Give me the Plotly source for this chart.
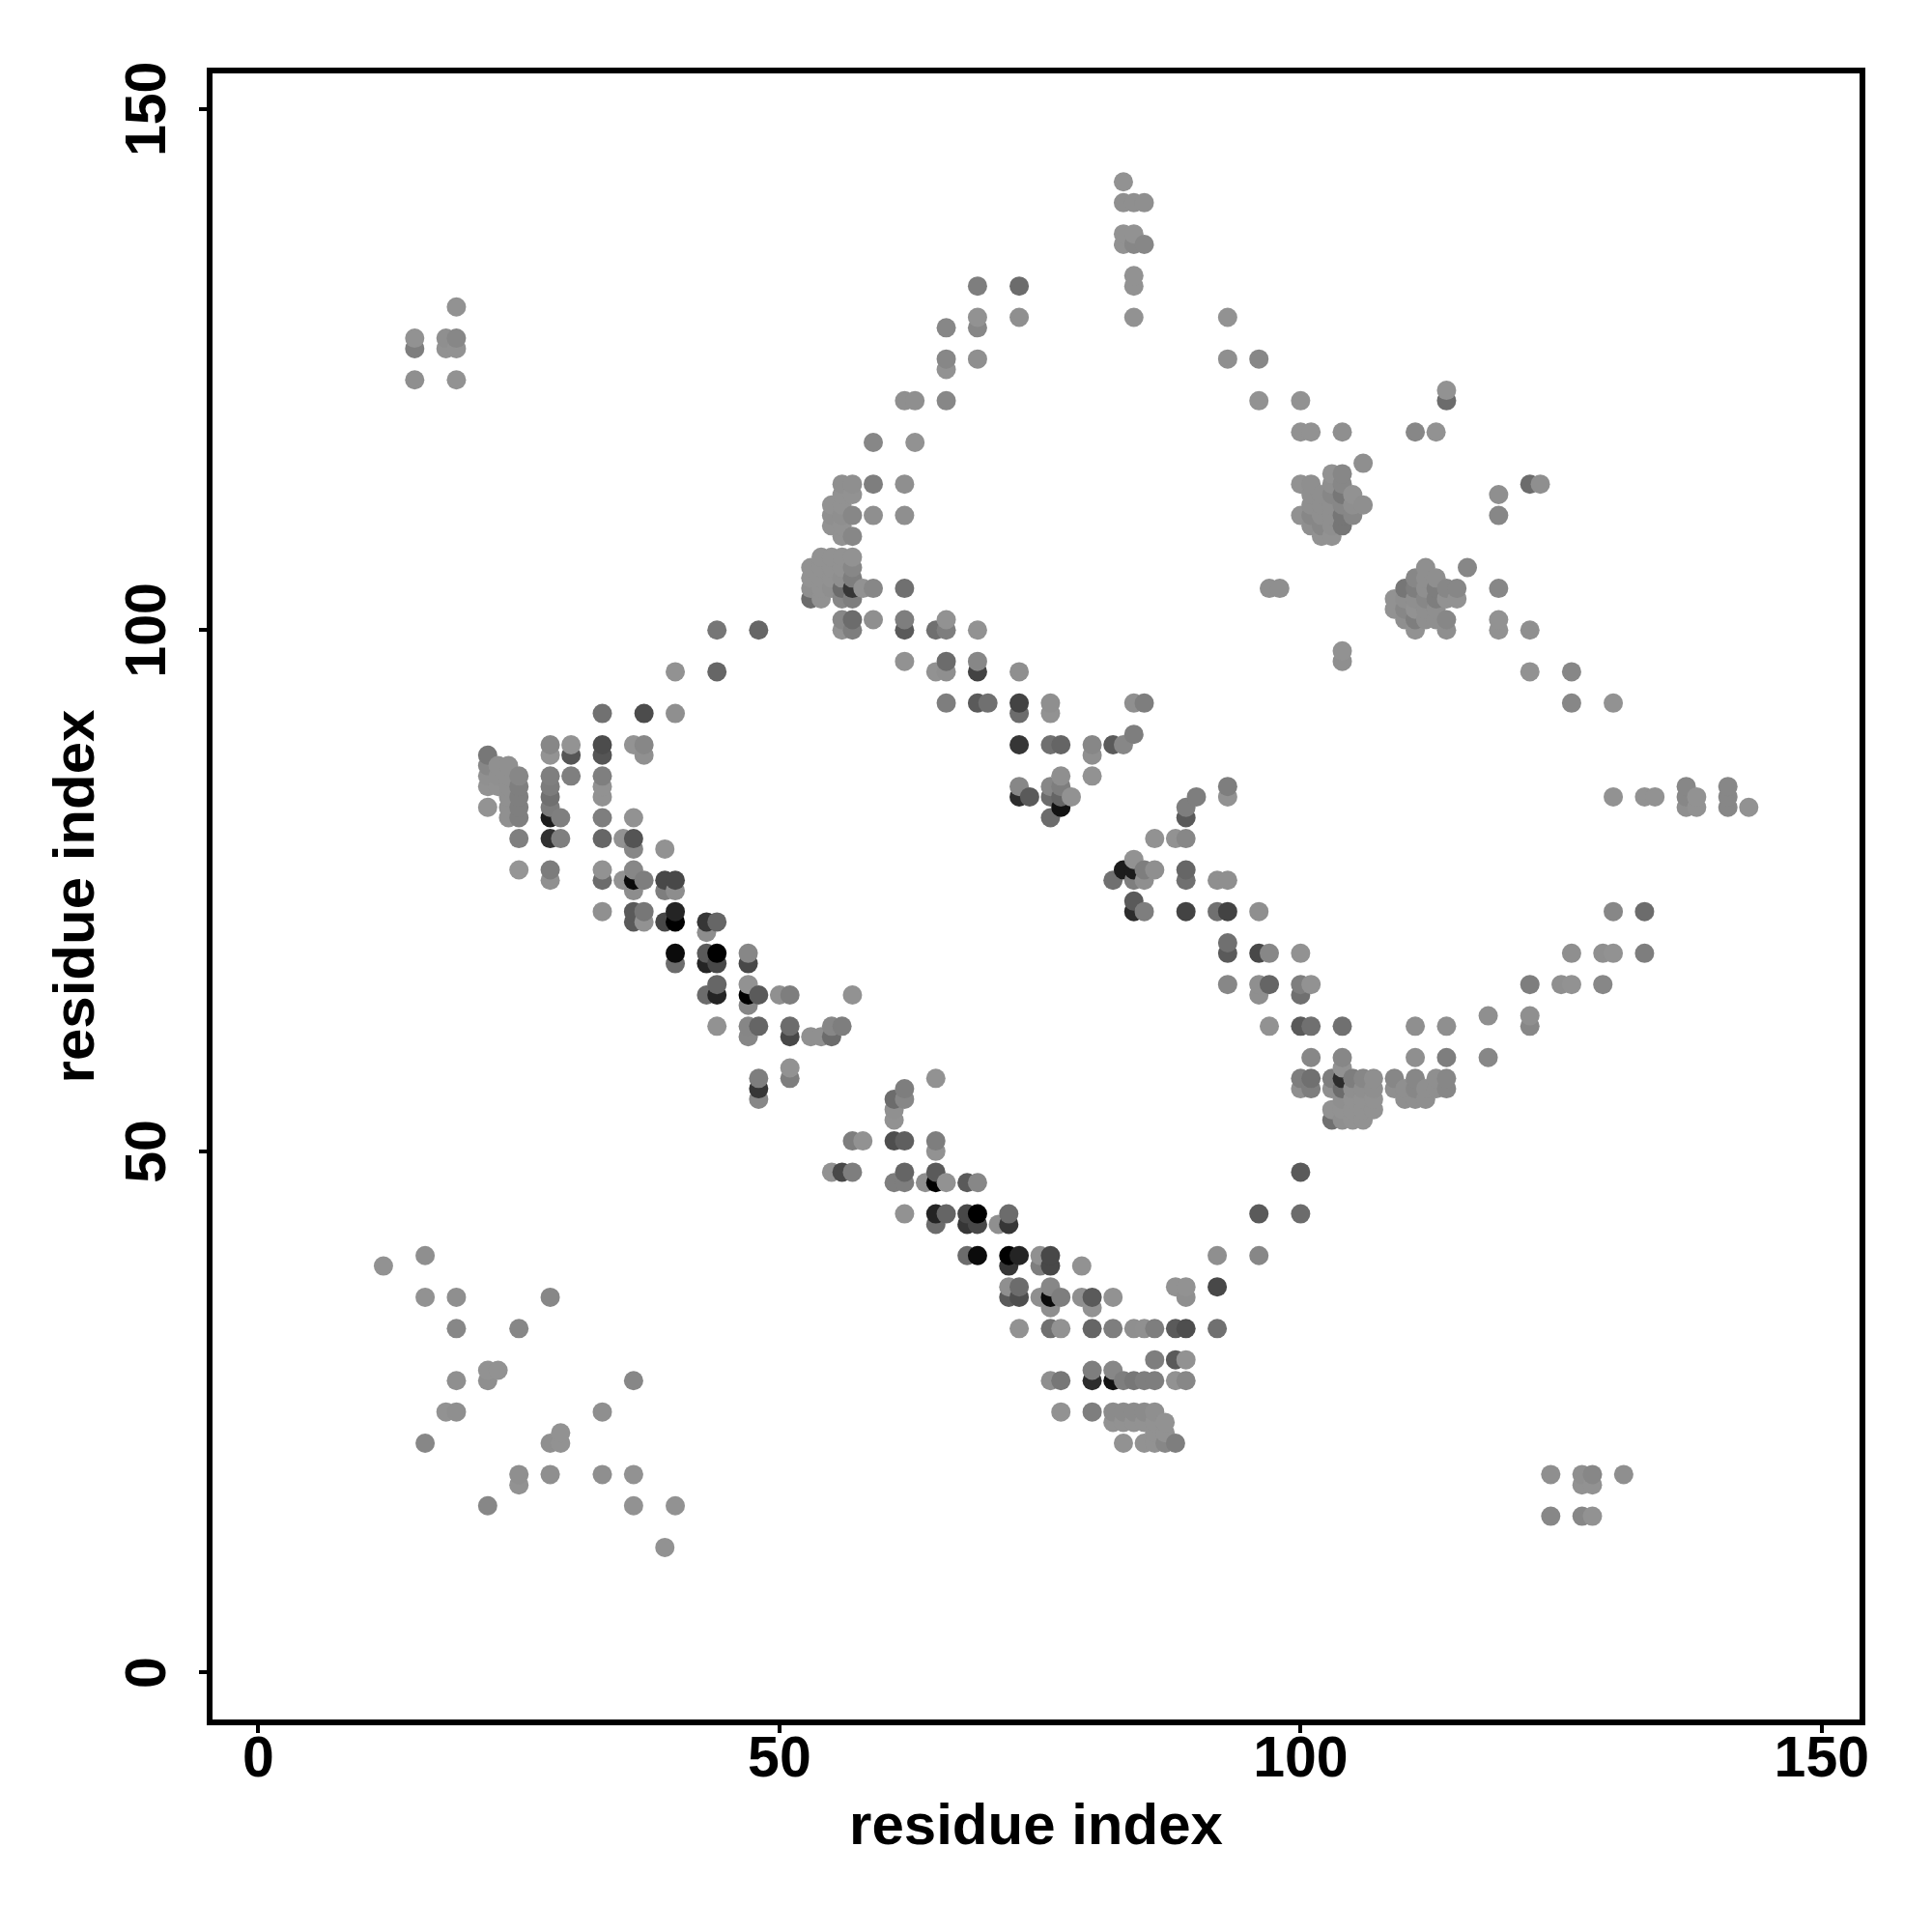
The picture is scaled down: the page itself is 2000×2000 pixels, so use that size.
import numpy as np
import plotly.graph_objects as go

tick_values = [0, 50, 100, 150]
axis_label = "residue index"

row_y = [143,141,138,137,134,133,131,130,129,128,127,126,125,124,123,122,119,118,116,115,114,113,112,111,110,109,107,106,105,104,103,102,101,100,98,97,96,93,92,90,89,88,87,86,85,84,83,82,80,79,78,77,76,75,74,73,72,71,70,69,68,66,65,64,63,62,61,59,58,57,56,55,54,53,51,50,48,47,44,43,40,39,37,36,35,33,30,29,28,25,24,23,22,19,18,16,15,12]

row_x = [
[83],[83,84,85],[83,84],[83,84,85],[84],[69,73,84],[19],[69,73,84,93],[66,69],[15,18,19],[15,18,19],[66,69,93,96],[66],[15,19],[114],[62,63,66,96,100,114],
[100,101,104,111,113],[59,63],[106],[103,104],[56,57,59,62,100,101,103,104,122,123],[56,57,101,102,103,104,105,119],[55,56,101,102,103,104,105,106],
[55,56,57,59,62,100,101,102,103,104,105,119],[55,56,101,102,103,104],[56,57,102,103],[54,55,56,57],[53,54,55,56,57,112,116],[53,54,55,56,57,111,112,113],
[53,54,55,56,57,58,59,62,97,98,110,111,112,113,114,115,119],[53,54,56,57,109,110,111,112,113,114,115],[109,110,111,112,113],[56,57,59,62,66,110,111,112,113,114,119],
[44,48,56,57,62,65,66,69,111,114,119,122],[104],[62,66,69,104],[40,44,65,66,69,73,122,126],[66,69,70,73,76,84,85,126,130],[33,37,40,73,76],[84],
[28,30,33,36,37,73,76,77,80,82,83],[22,28,30,33,37,80],[22,23,24],[22,23,24,25,28,30,33,77,80],[22,23,24,25,28,33,73,76,77,93,137,141],
[24,25,28,33,73,74,76,77,78,90,93,130,133,134,137,138,141],[22,24,25,28,77,89,137,138,141,143],[24,25,28,29,33,36,76,89],[25,28,29,33,35,36,86,88,89],[36,39],[84],
[25,28,33,36,83,84,85,86,89],[28,33,35,36,37,39,40,82,84,85,89,92,93],[36,39,40],[84],[33,36,37,40,84,85,89,92,93,96,130,133],[36,37,39,40,43,44],[43],[93],
[40,43,44,47,93,96,97,100,126,129,130,133],[40,43,44,47],[44,47,93,96,97,100,101,122,125,126,129],[43,44,47,48,50,51,57,96,100],[47],[118,122],
[44,47,48,51,55,56,97,100,101,104,111,114,122],[47,51,53,54,55],[101,104,111,114,118],[51,104],[48,51,65,100,101,103,104,105,106,107,109,111,113,114],
[48,62,100,101,103,104,105,106,107,109,110,111,112,113,114],[48,61,62,104,105,106,107,110,111,112],[61,103,104,105,106,107],[61,103,104,105,106],[57,58,61,62,65],[65],
[55,56,57,62,65,100],[61,62,64,65,66,68,69],[62,65,66,68,69,72,96,100],[65,68,69,71,72],[16,68,69,72,73,75,76,92,96],[12,72,75,76,79],[72,73,76,88,89,92],
[16,19,28,72,73,75,76,77,79,80,82,89],[76,80],[19,25,73,76,77,80,82,84,85,86,88,89,92],[86,88,89],[22,23,80,82],[19,22,36,76,77,80,82,83,84,85,86,88,89],
[18,19,33,77,80,82,83,84,85,86],[82,83,84,85,86,87],[29,86,87],[16,28,29,83,85,86,87,88],[25,28,33,36,124,127,128,131],[25,127,128],[22,36,40],[124,127,128],[39],
]

row_shade = [
[0x8f],[0x8a,0x8a,0x8a],[0x8f,0x8f],[0x8f,0x80,0x80],[0x8f],[0x77,0x66,0x8f],[0x8f],[0x8f,0x8a,0x8f,0x8f],[0x80,0x80],[0x8f,0x8a,0x80],[0x77,0x8f,0x8f],[0x80,0x8a,0x8a,0x80],[0x8f],[0x8a,0x8f],[0x8f],[0x8a,0x8a,0x80,0x8f,0x8f,0x66],
[0x8f,0x8f,0x8a,0x80,0x8f],[0x80,0x8f],[0x8a],[0x8f,0x80],[0x8a,0x8a,0x77,0x8a,0x8f,0x8a,0x8a,0x80,0x66,0x8a],[0x8f,0x8f,0x8a,0x8a,0x80,0x70,0x8f,0x8a],[0x8f,0x8f,0x8a,0x8a,0x8a,0x80,0x8a,0x8a],
[0x8a,0x8a,0x80,0x8a,0x8a,0x8f,0x80,0x8a,0x8a,0x6f,0x80,0x80],[0x8f,0x8f,0x8a,0x80,0x8a,0x6f],[0x8f,0x80,0x8f,0x8f],[0x8f,0x8f,0x8f,0x8f],[0x8f,0x8f,0x8f,0x8f,0x80,0x8a,0x80],[0x8f,0x8f,0x8f,0x8a,0x77,0x80,0x8a,0x8a],
[0x8a,0x8f,0x8a,0x66,0x33,0x8f,0x80,0x6a,0x8a,0x8a,0x6f,0x77,0x8a,0x77,0x80,0x80,0x80],[0x66,0x8f,0x80,0x77,0x8f,0x8a,0x8a,0x80,0x77,0x8f,0x8f],[0x8f,0x80,0x8f,0x8a,0x8a],[0x80,0x66,0x8a,0x77,0x8f,0x8a,0x77,0x8a,0x8a,0x80,0x8f],
[0x6f,0x60,0x8f,0x77,0x55,0x6a,0x77,0x8f,0x8f,0x8a,0x8f,0x8a],[0x8f],[0x8f,0x66,0x80,0x8a],[0x8f,0x60,0x8f,0x8a,0x3f,0x8a,0x8f,0x80],[0x77,0x55,0x6a,0x3f,0x8a,0x8a,0x77,0x80,0x8f],[0x6b,0x48,0x8a,0x66,0x8f],[0x77],
[0x80,0x90,0x48,0x90,0x80,0x33,0x6a,0x5f,0x80,0x55,0x80],[0x70,0x90,0x50,0x50,0x8c,0x8a],[0x80,0x8c,0x8c],[0x8c,0x8c,0x8c,0x80,0x78,0x78,0x78,0x8a,0x8f],[0x8f,0x8f,0x8c,0x78,0x75,0x8f,0x80,0x80,0x77,0x77,0x80,0x80],
[0x8c,0x78,0x6a,0x8f,0x2a,0x55,0x66,0x5f,0x8f,0x77,0x8f,0x8f,0x8f,0x8f,0x80,0x8f,0x80],[0x90,0x8c,0x78,0x75,0x11,0x77,0x8a,0x8f,0x80,0x8f],[0x8c,0x78,0x1a,0x78,0x77,0x8f,0x66,0x55],[0x78,0x2e,0x78,0x60,0x8f,0x4f,0x8f,0x8f,0x80],[0x80,0x8f],[0x8f],
[0x92,0x75,0x8f,0x80,0x1a,0x1a,0x77,0x8a,0x60],[0x8c,0x66,0x8f,0x0a,0x77,0x44,0x44,0x6a,0x77,0x8a,0x6a,0x8a,0x8a],[0x88,0x77,0x88],[0x55],[0x8c,0x55,0x70,0x22,0x2a,0x77,0x3f,0x6a,0x3f,0x8a,0x80,0x66],[0x55,0x8f,0x44,0x00,0x33,0x60],[0x88],[0x6a],
[0x0a,0x55,0x00,0x80,0x55,0x44,0x80,0x8f,0x8a,0x8a,0x8f,0x77],[0x66,0x22,0x44,0x44],[0x60,0x8f,0x80,0x8a,0x5f,0x77,0x8f,0x77,0x8a,0x8f,0x80],[0x66,0x22,0x00,0x55,0x8c,0x77,0x8f,0x8a,0x6a],[0x80],[0x8a,0x8a],
[0x8f,0x7f,0x5f,0x66,0x80,0x77,0x8f,0x55,0x6a,0x6a,0x8a,0x8a,0x80],[0x80,0x44,0x8c,0x8c,0x66],[0x80,0x80,0x8a,0x77,0x80],[0x8f,0x8f],[0x77,0x77,0x8f,0x77,0x6a,0x77,0x2a,0x77,0x80,0x8a,0x80,0x80,0x8a,0x80],
[0x33,0x77,0x8a,0x77,0x8a,0x66,0x8a,0x8a,0x8a,0x8a,0x8a,0x80,0x8a,0x8a,0x80],[0x80,0x66,0x80,0x8a,0x8f,0x8f,0x8f,0x8a,0x8a,0x8a],[0x8c,0x8f,0x8f,0x8f,0x8f,0x8f],[0x8f,0x6a,0x8a,0x8f,0x8f],[0x77,0x8f,0x4a,0x5a,0x77],[0x8f],
[0x8f,0x44,0x77,0x5f,0x55,0x55],[0x77,0x77,0x8a,0x00,0x8f,0x55,0x80],[0x8f,0x22,0x5f,0x44,0x00,0x66,0x55,0x66],[0x66,0x33,0x44,0x8a,0x33],[0x8a,0x66,0x0a,0x00,0x22,0x8c,0x44,0x8a,0x80],[0x8f,0x33,0x77,0x44,0x8f],[0x8a,0x66,0x80,0x8f,0x8f,0x44],
[0x8f,0x8a,0x80,0x55,0x4a,0x8a,0x0a,0x77,0x8a,0x55,0x8f,0x8a],[0x8a,0x8f],[0x80,0x80,0x8f,0x6a,0x8f,0x5f,0x77,0x8a,0x8c,0x77,0x55,0x4a,0x6a],[0x77,0x55,0x8f],[0x8f,0x8f,0x77,0x80],[0x8a,0x8a,0x80,0x8a,0x70,0x2a,0x11,0x77,0x70,0x77,0x77,0x8f,0x80],
[0x8f,0x8a,0x8a,0x8f,0x77,0x85,0x85,0x85,0x85,0x8a],[0x8f,0x8f,0x8f,0x8f,0x8f,0x8f],[0x8f,0x8f,0x8f],[0x80,0x8a,0x8f,0x8f,0x8f,0x8f,0x80,0x77],[0x8a,0x8a,0x8a,0x8f,0x8a,0x8a,0x80,0x8a],[0x8f,0x8f,0x8f],[0x80,0x8f,0x8f],[0x80,0x80,0x8f],[0x8f],
]

xs, ys, shades = [], [], []
for y, row, shade in zip(row_y, row_x, row_shade):
    assert len(row) == len(shade), (y, row, shade)
    xs += row
    ys += [y] * len(row)
    shades += shade
order = np.lexsort((ys, xs))
xs, ys, shades = np.array(xs)[order], np.array(ys)[order], np.array(shades)[order]

fig = go.Figure(go.Scatter(
    x=xs, y=ys, mode="markers",
    marker=dict(size=20, color=shades, cmin=0, cmax=255,
                colorscale=[[0, "#000000"], [0.5, "#878787"], [0.56, "#929292"], [1, "#ffffff"]],
                showscale=False, line_width=0),
    hoverinfo="skip",
))
font = "Liberation Sans"
title_font = dict(family=font, size=60, color="black", weight="bold")
axis = dict(
    tickmode="array", tickvals=tick_values, ticktext=[str(v) for v in tick_values],
    ticks="outside", ticklen=8, tickwidth=4, tickcolor="black",
    showline=True, mirror=True, linewidth=6, linecolor="black",
    showgrid=False, zeroline=False,
    tickfont=dict(family=font, size=59, color="black", weight="bold"),
)
fig.update_layout(
    width=2000, height=2000, showlegend=False,
    paper_bgcolor="white", plot_bgcolor="white",
    margin=dict(l=220, r=75, t=76, b=220, autoexpand=False),
    xaxis=dict(axis, range=[-4.4, 153.63], ticklabelstandoff=-26,
               title=dict(text=axis_label, standoff=18, font=title_font)),
    yaxis=dict(axis, range=[-4.5, 153.4], tickangle=-90, ticklabelstandoff=11, ticklabelshift=9,
               title=dict(text=axis_label, standoff=3, font=title_font)),
)
fig.write_html("out.html", post_script="document.body.style.margin='0';",
               config=dict(displayModeBar=False))
